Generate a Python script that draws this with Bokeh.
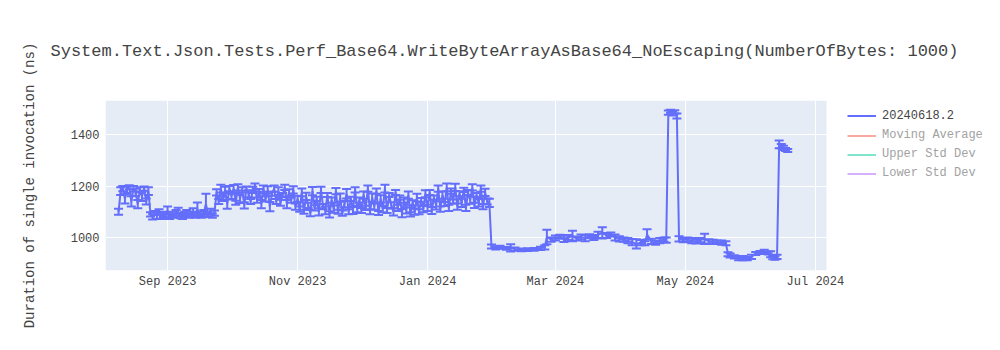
from datetime import datetime
import pandas as pd
from bokeh.plotting import figure
from bokeh.models import (ColumnDataSource, Whisker, TeeHead, Range1d, FixedTicker,
                          DatetimeTickFormatter, Legend, LegendItem, BoxAnnotation)
from bokeh.embed import file_html
from bokeh.resources import INLINE

TITLE = "System.Text.Json.Tests.Perf_Base64.WriteByteArrayAsBase64_NoEscaping(NumberOfBytes: 1000)"
Y_LABEL = "Duration of single invocation (ns)"
SERIES_NAME = "20240618.2"
HIDDEN_SERIES = ["Moving Average", "Upper Std Dev", "Lower Std Dev"]
Y_TICKS = [1000, 1200, 1400]
X_TICKS = ["2023-09-01", "2023-11-01", "2024-01-01", "2024-03-01", "2024-05-01", "2024-07-01"]

dates = [
    # Aug 2023
    "2023-08-09", "2023-08-10", "2023-08-11", "2023-08-12", "2023-08-13", "2023-08-14", "2023-08-15",
    "2023-08-16", "2023-08-17", "2023-08-18", "2023-08-19", "2023-08-20", "2023-08-21", "2023-08-22",
    "2023-08-23", "2023-08-24", "2023-08-25", "2023-08-26", "2023-08-27", "2023-08-28", "2023-08-29",
    "2023-08-30", "2023-08-31",
    # Sep 2023
    "2023-09-01", "2023-09-02", "2023-09-03", "2023-09-04", "2023-09-05", "2023-09-06", "2023-09-07",
    "2023-09-08", "2023-09-09", "2023-09-10", "2023-09-11", "2023-09-12", "2023-09-13", "2023-09-14",
    "2023-09-15", "2023-09-16", "2023-09-17", "2023-09-18", "2023-09-19", "2023-09-20", "2023-09-21",
    "2023-09-22", "2023-09-23", "2023-09-24", "2023-09-25", "2023-09-26", "2023-09-27", "2023-09-28",
    "2023-09-29", "2023-09-30",
    # Oct 2023
    "2023-10-01", "2023-10-02", "2023-10-03", "2023-10-04", "2023-10-05", "2023-10-06", "2023-10-07",
    "2023-10-08", "2023-10-09", "2023-10-10", "2023-10-11", "2023-10-12", "2023-10-13", "2023-10-14",
    "2023-10-15", "2023-10-16", "2023-10-17", "2023-10-18", "2023-10-19", "2023-10-20", "2023-10-21",
    "2023-10-22", "2023-10-23", "2023-10-24", "2023-10-25", "2023-10-26", "2023-10-27", "2023-10-28",
    "2023-10-29", "2023-10-30", "2023-10-31",
    # Nov 2023
    "2023-11-01", "2023-11-02", "2023-11-03", "2023-11-04", "2023-11-05", "2023-11-06", "2023-11-07",
    "2023-11-08", "2023-11-09", "2023-11-10", "2023-11-11", "2023-11-12", "2023-11-13", "2023-11-14",
    "2023-11-15", "2023-11-16", "2023-11-17", "2023-11-18", "2023-11-19", "2023-11-20", "2023-11-21",
    "2023-11-22", "2023-11-23", "2023-11-24", "2023-11-25", "2023-11-26", "2023-11-27", "2023-11-28",
    "2023-11-29", "2023-11-30",
    # Dec 2023
    "2023-12-01", "2023-12-02", "2023-12-03", "2023-12-04", "2023-12-05", "2023-12-06", "2023-12-07",
    "2023-12-08", "2023-12-09", "2023-12-10", "2023-12-11", "2023-12-12", "2023-12-13", "2023-12-14",
    "2023-12-15", "2023-12-16", "2023-12-17", "2023-12-18", "2023-12-19", "2023-12-20", "2023-12-21",
    "2023-12-22", "2023-12-23", "2023-12-24", "2023-12-25", "2023-12-26", "2023-12-27", "2023-12-28",
    "2023-12-29", "2023-12-30", "2023-12-31",
    # Jan 2024
    "2024-01-01", "2024-01-02", "2024-01-03", "2024-01-04", "2024-01-05", "2024-01-06", "2024-01-07",
    "2024-01-08", "2024-01-09", "2024-01-10", "2024-01-11", "2024-01-12", "2024-01-13", "2024-01-14",
    "2024-01-15", "2024-01-16", "2024-01-17", "2024-01-18", "2024-01-19", "2024-01-20", "2024-01-21",
    "2024-01-22", "2024-01-23", "2024-01-24", "2024-01-25", "2024-01-26", "2024-01-27", "2024-01-28",
    "2024-01-29", "2024-01-30", "2024-01-31",
    # Feb 2024
    "2024-02-02", "2024-02-04", "2024-02-07", "2024-02-09", "2024-02-11", "2024-02-14", "2024-02-17",
    "2024-02-20", "2024-02-23", "2024-02-25", "2024-02-26", "2024-02-28",
    # Mar 2024
    "2024-03-01", "2024-03-03", "2024-03-05", "2024-03-07", "2024-03-09", "2024-03-11", "2024-03-13",
    "2024-03-15", "2024-03-17", "2024-03-19", "2024-03-21", "2024-03-23", "2024-03-25", "2024-03-27",
    "2024-03-29", "2024-03-31",
    # Apr 2024
    "2024-04-02", "2024-04-04", "2024-04-06", "2024-04-08", "2024-04-10", "2024-04-12", "2024-04-13",
    "2024-04-15", "2024-04-17", "2024-04-19", "2024-04-21", "2024-04-22", "2024-04-23", "2024-04-24",
    "2024-04-25", "2024-04-26", "2024-04-27", "2024-04-28", "2024-04-30",
    # May 2024
    "2024-05-02", "2024-05-04", "2024-05-06", "2024-05-08", "2024-05-10", "2024-05-12", "2024-05-14",
    "2024-05-16", "2024-05-18", "2024-05-20", "2024-05-21", "2024-05-22", "2024-05-24", "2024-05-26",
    "2024-05-28", "2024-05-30",
    # Jun 2024
    "2024-06-01", "2024-06-03", "2024-06-05", "2024-06-07", "2024-06-09", "2024-06-10", "2024-06-11",
    "2024-06-12", "2024-06-13", "2024-06-14", "2024-06-15", "2024-06-16", "2024-06-17", "2024-06-18",
]

values = [
    # Aug 9 - Aug 23
    1100, 1180, 1190, 1150, 1185, 1195, 1140, 1190, 1175, 1130, 1185, 1160, 1190, 1140, 1180,
    # Aug 24 - Sep 23
    1090, 1080, 1095, 1085, 1100, 1080, 1090, 1085, 1105, 1080, 1090, 1085, 1095, 1100, 1085,
    1080, 1090, 1095, 1085, 1090, 1100, 1085, 1110, 1090, 1085, 1095, 1130, 1090, 1100, 1085, 1095,
    # Sep 24 - Sep 30
    1175, 1140, 1190, 1150, 1185, 1130, 1190,
    # Oct
    1160, 1190, 1135, 1195, 1150, 1185, 1125, 1190, 1170, 1140, 1185, 1195, 1145, 1180, 1130,
    1190, 1150, 1185, 1120, 1170, 1190, 1140, 1180, 1135, 1165, 1195, 1130, 1175, 1145, 1185, 1120,
    # Nov
    1150, 1110, 1175, 1100, 1160, 1125, 1095, 1180, 1115, 1150, 1100, 1185, 1120, 1105, 1165,
    1090, 1145, 1110, 1180, 1100, 1155, 1095, 1130, 1170, 1100, 1150, 1105, 1185, 1110, 1145,
    # Dec
    1105, 1165, 1115, 1190, 1100, 1155, 1120, 1180, 1095, 1150, 1110, 1190, 1105, 1165, 1125,
    1100, 1175, 1115, 1155, 1095, 1145, 1105, 1165, 1090, 1135, 1100, 1155, 1100, 1145, 1110, 1170,
    # Jan 1 - Jan 30
    1115, 1175, 1105, 1155, 1125, 1190, 1110, 1165, 1130, 1195, 1115, 1180, 1140, 1195, 1120,
    1170, 1135, 1185, 1115, 1175, 1145, 1195, 1125, 1165, 1135, 1190, 1120, 1175, 1140, 1135,
    # Jan 31 - Feb 25
    965, 960, 962, 958, 960, 955, 952, 953, 954, 958, 962,
    # Feb 26 - Apr 22
    1002, 992, 998, 1003, 995, 1000, 1006, 996, 1002, 998, 1005, 1000, 1010, 1018, 1008,
    1012, 1000, 995, 992, 988, 982, 975, 980, 978, 1012, 985, 980, 988, 992, 990,
    # Apr 23 - Apr 27
    1485, 1490, 1482, 1488, 1472,
    # Apr 28 - May 20
    995, 990, 992, 988, 985, 990, 995, 985, 983, 982, 980, 978,
    # May 21 - Jun 13
    935, 930, 925, 918, 920, 918, 925, 938, 942, 945, 940, 935, 922, 920, 925,
    # Jun 14 - Jun 18
    1362, 1355, 1348, 1342, 1338,
]

errors = [
    12, 15, 10, 18, 12, 8, 20, 10, 14, 16, 10, 18, 8, 12, 15,
    8, 10, 8, 12, 10, 8, 10, 12, 15, 8, 10, 8, 12, 16, 10,
    8, 10, 12, 8, 10, 14, 8, 26, 10, 8, 12, 40, 10, 12, 8, 10,
    12, 10, 15, 8, 12, 18, 10,
    10, 14, 8, 12, 16, 10, 12, 8, 14, 10, 12, 15, 10, 8, 16,
    12, 10, 14, 18, 8, 12, 10, 15, 12, 8, 10, 16, 12, 10, 14, 12,
    12, 10, 15, 8, 14, 10, 12, 16, 10, 8, 14, 12, 10, 15, 8,
    12, 10, 14, 12, 8, 16, 10, 12, 18, 10, 8, 14, 10, 12, 10,
    10, 14, 8, 12, 10, 16, 12, 10, 8, 14, 12, 15, 10, 8, 12,
    14, 10, 12, 8, 16, 10, 12, 14, 8, 10, 12, 15, 10, 8, 12, 14,
    12, 10, 14, 8, 16, 12, 10, 14, 8, 15, 12, 10, 8, 14, 12,
    10, 16, 8, 12, 10, 14, 12, 10, 8, 15, 12, 10, 14, 12, 16,
    8, 6, 6, 5, 14, 6, 5, 5, 5, 6, 8,
    28, 8, 10, 8, 12, 10, 20, 8, 10, 12, 8, 10, 12, 22, 10,
    8, 12, 10, 8, 10, 12, 18, 10, 8, 20, 10, 8, 10, 8, 10,
    8, 6, 8, 6, 10,
    10, 8, 8, 10, 8, 8, 20, 8, 8, 6, 8, 8,
    8, 8, 6, 6, 8, 6, 8, 6, 6, 8, 6, 12, 6, 6, 8,
    15, 8, 8, 6, 6,
]

n = min(len(dates), len(values), len(errors))
x = pd.to_datetime(dates[:n])
vals = values[:n]
errs = errors[:n]
src = ColumnDataSource(dict(
    x=x, y=vals,
    upper=[v + e for v, e in zip(vals, errs)],
    lower=[v - e for v, e in zip(vals, errs)],
))

FONT = "Liberation Mono"
TXT = "#444444"
TXT_FADED = "#A2A2A2"
BLUE = "#636efa"
PLOT_BG = "#E5ECF6"

# layout: plot area spans x 105..826 of the canvas; the frame runs on to the
# right edge so the legend can sit beside it; the grey plot area is a box.
FRAME_L, PLOT_R, FRAME_R = 105, 826, 1000
X_START = pd.Timestamp("2023-08-02 21:00")
X_PLOT_END = pd.Timestamp("2024-07-06 05:00")
X_END = X_START + (X_PLOT_END - X_START) * ((FRAME_R - FRAME_L) / (PLOT_R - FRAME_L))

p = figure(width=1000, height=350, x_axis_type="datetime", output_backend="svg",
           toolbar_location=None,
           x_range=Range1d(X_START, X_END),
           y_range=Range1d(872, 1532),
           min_border_left=FRAME_L, min_border_right=0, min_border_top=100, min_border_bottom=80)
p.background_fill_color = "white"
p.border_fill_color = "white"
p.outline_line_color = None

epoch = pd.Timestamp("1970-01-01")
plot_end_ms = (X_PLOT_END - epoch).total_seconds() * 1000
p.add_layout(BoxAnnotation(right=plot_end_ms, fill_color=PLOT_BG, fill_alpha=1,
                           line_color=None, level="image"))

p.title.text = TITLE
p.title.text_font = FONT
p.title.text_font_size = "17px"
p.title.text_font_style = "normal"
p.title.text_color = TXT
p.title.align = "left"
p.title.offset = -55
p.title.standoff = 79

p.grid.grid_line_color = "white"
p.grid.grid_line_width = 1

for ax in (p.xaxis[0], p.yaxis[0]):
    ax.axis_line_color = None
    ax.major_tick_line_color = None
    ax.minor_tick_line_color = None
    ax.major_tick_out = 0
    ax.major_tick_in = 0
    ax.major_label_text_font = FONT
    ax.major_label_text_font_size = "12px"
    ax.major_label_text_color = TXT

p.yaxis.ticker = FixedTicker(ticks=Y_TICKS)
p.yaxis.major_label_standoff = 6
p.yaxis.axis_label = Y_LABEL
p.yaxis.axis_label_text_font = FONT
p.yaxis.axis_label_text_font_size = "14px"
p.yaxis.axis_label_text_font_style = "normal"
p.yaxis.axis_label_text_color = TXT
p.yaxis.axis_label_standoff = 30

x_ticks_ms = [(pd.Timestamp(t) - epoch).total_seconds() * 1000 for t in X_TICKS]
p.xaxis.ticker = FixedTicker(ticks=x_ticks_ms)
p.xgrid.ticker = FixedTicker(ticks=x_ticks_ms)
p.xaxis.formatter = DatetimeTickFormatter(months="%b %Y", days="%b %Y", years="%b %Y",
                                          hours="%b %Y", minutes="%b %Y", seconds="%b %Y",
                                          milliseconds="%b %Y", microseconds="%b %Y",
                                          hourmin="%b %Y", minsec="%b %Y")
p.xaxis.major_label_standoff = 4

main = p.line("x", "y", source=src, line_color=BLUE, line_width=2)
head = dict(size=9, line_color=BLUE, line_width=2)
p.add_layout(Whisker(source=src, base="x", upper="upper", lower="lower",
                     line_color=BLUE, line_width=2,
                     upper_head=TeeHead(**head), lower_head=TeeHead(**head)))

# legend: main series plus three hidden (legend-only) series shown faded;
# the hidden ones get a single NaN point so that nothing is drawn in the plot
faded_colors = ["#F7AA9D", "#80E6CB", "#D5B1FD"]
faded_items = []
for name, col in zip(HIDDEN_SERIES, faded_colors):
    r = p.line(x=[x[0]], y=[float("nan")], line_color=col, line_width=2)
    faded_items.append(LegendItem(label=name, renderers=[r]))

common = dict(orientation="vertical", label_text_font=FONT, label_text_font_size="12px",
              glyph_width=29, glyph_height=19, label_height=19, spacing=0,
              label_standoff=6, padding=0, margin=0,
              border_line_color=None, background_fill_alpha=0)
leg_x = 847 - FRAME_L
leg1 = Legend(items=[LegendItem(label=SERIES_NAME, renderers=[main])],
              location=(leg_x, 270 - 125), label_text_color=TXT, **common)
leg2 = Legend(items=faded_items, location=(leg_x, 270 - 182.5),
              label_text_color=TXT_FADED, **common)
p.add_layout(leg1, "center")
p.add_layout(leg2, "center")

open("out.html", "w").write(file_html(p, INLINE))
